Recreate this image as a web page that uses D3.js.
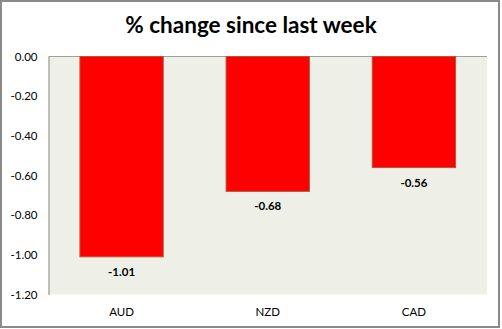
<!DOCTYPE html>
<html><head><meta charset="utf-8">
<script src="https://cdn.jsdelivr.net/npm/d3@7"></script>
<style>body{margin:0;background:#fff}svg{display:block}</style>
</head><body>
<svg id="c" width="502" height="329"></svg>
<script>
const categories = ["AUD", "NZD", "CAD"];
const values = [-1.01, -0.68, -0.56];
const yTicks = [0, -0.2, -0.4, -0.6, -0.8, -1.0, -1.2];
const title = "% change since last week";

const svg = d3.select("#c");
const font = "Lato, 'Open Sans', sans-serif";
const m = {left: 48.5, right: 487, top: 56.5, bottom: 294.5};
const fmt = d3.formatLocale({decimal: ".", thousands: ",", grouping: [3], currency: ["", ""], minus: "-"}).format(".2f");

svg.append("rect").attr("x",1).attr("y",1).attr("width",498).attr("height",326)
  .attr("fill","#fff").attr("stroke","#8a8a8a").attr("stroke-width",2);

svg.append("text").attr("x",251).attr("y",33).attr("text-anchor","middle")
  .attr("font-family",font).attr("font-weight","bold").attr("font-size",22.5)
  .attr("fill","#000").text(title);

const x = d3.scaleBand().domain(categories).range([m.left, m.right]).paddingInner(0.43).paddingOuter(0.215);
const y = d3.scaleLinear().domain([0, -1.2]).range([m.top, m.bottom]);

svg.append("rect").attr("x",m.left).attr("y",m.top).attr("width",m.right-m.left).attr("height",m.bottom-m.top)
  .attr("fill","#EEF0E8");
svg.append("line").attr("x1",m.left).attr("x2",m.right).attr("y1",m.top).attr("y2",m.top)
  .attr("stroke","#a0a0a0").attr("stroke-width",1);

const yAxis = svg.append("g").attr("transform",`translate(${m.left},0)`)
  .call(d3.axisLeft(y).tickValues(yTicks).tickFormat(fmt).tickSize(0).tickPadding(11));
yAxis.select(".domain").attr("stroke","#868686");
yAxis.selectAll("text").attr("font-family",font).attr("font-size",11.5).attr("fill","#000");

svg.selectAll("rect.bar").data(categories).join("rect").attr("class","bar")
  .attr("x",d=>x(d)).attr("width",x.bandwidth())
  .attr("y",y(0)).attr("height",(d,i)=>y(values[i])-y(0))
  .attr("fill","#FF0000").attr("stroke","#B0573A").attr("stroke-width",1);

svg.selectAll("text.val").data(categories).join("text").attr("class","val")
  .attr("x",d=>x(d)+x.bandwidth()/2).attr("y",(d,i)=>y(values[i])+19)
  .attr("text-anchor","middle").attr("font-family",font).attr("font-weight","bold")
  .attr("font-size",11.5).attr("fill","#000").text((d,i)=>fmt(values[i]));

svg.selectAll("text.cat").data(categories).join("text").attr("class","cat")
  .attr("x",d=>x(d)+x.bandwidth()/2).attr("y",316)
  .attr("text-anchor","middle").attr("font-family",font)
  .attr("font-size",11.5).attr("fill","#000").text(d=>d);
</script>
</body></html>
